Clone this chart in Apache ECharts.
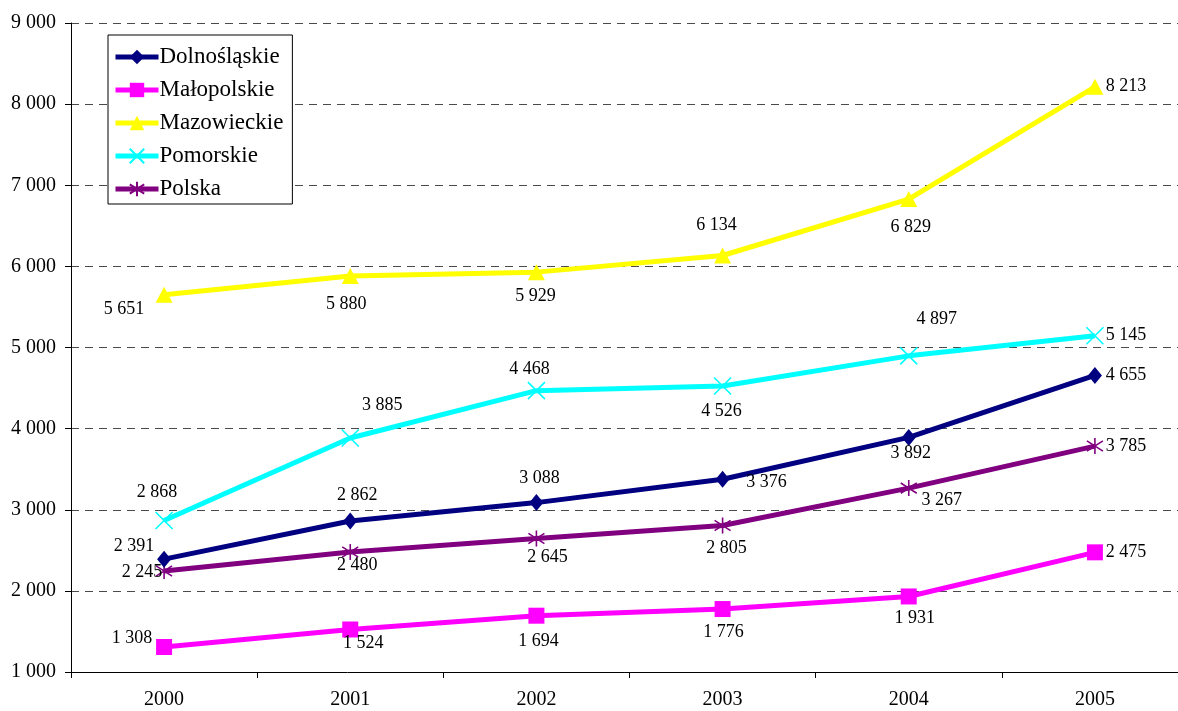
<!DOCTYPE html>
<html>
<head>
<meta charset="utf-8">
<script src="https://cdn.jsdelivr.net/npm/echarts@6/dist/echarts.min.js"></script>
<style>
html,body{margin:0;padding:0;background:#fff;}
#chart{width:1178px;height:711px;}
</style>
</head>
<body>
<div id="chart"></div>
<script>
// ---- data ----
const categories = ['2000', '2001', '2002', '2003', '2004', '2005'];
const seriesNames = ['Dolnośląskie', 'Małopolskie', 'Mazowieckie', 'Pomorskie', 'Polska'];
const dolnoslaskie = [2391, 2862, 3088, 3376, 3892, 4655];
const malopolskie = [1308, 1524, 1694, 1776, 1931, 2475];
const mazowieckie = [5651, 5880, 5929, 6134, 6829, 8213];
const pomorskie = [2868, 3885, 4468, 4526, 4897, 5145];
const polska = [2245, 2480, 2645, 2805, 3267, 3785];
const yTicks = {min: 1000, max: 9000, interval: 1000};

// ---- styles (label offsets in px relative to each marker) ----
const labelOffsets = [
  [[-30,-13],[7,-26],[3,-24],[44,3],[2,16],[31,0]],
  [[-32,-9],[13,14],[2,26],[1,23],[6,22],[31,0]],
  [[-40,15],[-4,28],[-1,24],[-6,-30],[2,28],[31,-1]],
  [[-7,-28],[32,-33],[-7,-21],[-1,25],[28,-37],[31,0]],
  [[-22,1],[7,13],[11,19],[4,23],[33,12],[31,0]]
];
const colors = ['#000080', '#FF00FF', '#FFFF00', '#00FFFF', '#800080'];
const symbols = [
  'diamond',
  'rect',
  'triangle',
  'path://M0,0L10,10M10,0L0,10',
  'path://M5,0L5,10M0.8,1.8L9.2,8.2M9.2,1.8L0.8,8.2'
];
const symbolSizes = [[14,17], 16, [17,16], 17, 16];
const FONT = '"Liberation Serif", "Times New Roman", serif';

function fmt(v) {
  return String(v).replace(/\B(?=(\d{3})+(?!\d))/g, ' ');
}

const allValues = [dolnoslaskie, malopolskie, mazowieckie, pomorskie, polska];

const series = allValues.map((vals, i) => {
  const stroked = i >= 3;
  return {
    name: seriesNames[i],
    type: 'line',
    data: vals.map((v, j) => ({
      value: v,
      label: { offset: labelOffsets[i][j] }
    })),
    symbol: symbols[i],
    symbolSize: symbolSizes[i],
    showAllSymbol: true,
    lineStyle: { color: colors[i], width: 5 },
    itemStyle: stroked
      ? { color: colors[i], borderColor: colors[i], borderWidth: 1.6 }
      : { color: colors[i], borderWidth: 0 },
    label: {
      show: true,
      position: 'inside',
      formatter: p => fmt(p.value),
      color: '#000',
      fontFamily: FONT,
      fontSize: 18
    },
    emphasis: { disabled: true },
    animation: false,
    z: 2 + (4 - i)
  };
});

const chart = echarts.init(document.getElementById('chart'), null, { renderer: 'canvas' });
chart.setOption({
  backgroundColor: '#fff',
  animation: false,
  grid: { left: 71, top: 23, width: 1117, height: 649, containLabel: false, outerBoundsMode: 'none' },
  legend: {
    orient: 'vertical',
    left: 108,
    top: 35,
    data: seriesNames,
    backgroundColor: '#fff',
    borderColor: '#000',
    borderWidth: 1,
    borderRadius: 0,
    padding: [10, 9, 3, 5],
    itemWidth: 43,
    itemHeight: 18,
    itemGap: 9,
    lineStyle: { width: 5 },
    textStyle: { fontFamily: FONT, fontSize: 23, color: '#000', lineHeight: 24, padding: [0,0,0,-4] }
  },
  xAxis: {
    type: 'category',
    data: categories,
    boundaryGap: true,
    axisLine: { show: true, lineStyle: { color: '#000', width: 1 } },
    axisTick: { show: true, length: 6, interval: 0, lineStyle: { color: '#000' } },
    axisLabel: { fontFamily: FONT, fontSize: 20, color: '#000', margin: 18 },
    splitLine: { show: false }
  },
  yAxis: {
    type: 'value',
    min: yTicks.min,
    max: yTicks.max,
    interval: yTicks.interval,
    axisLine: { show: true, lineStyle: { color: '#000', width: 1 } },
    axisTick: { show: true, length: 6, lineStyle: { color: '#000' } },
    axisLabel: { fontFamily: FONT, fontSize: 20, color: '#000', margin: 15, formatter: v => fmt(v) },
    splitLine: { show: true, lineStyle: { color: '#4a4a4a', width: 1, type: [8, 6] } }
  },
  series: series
});
</script>
</body>
</html>
